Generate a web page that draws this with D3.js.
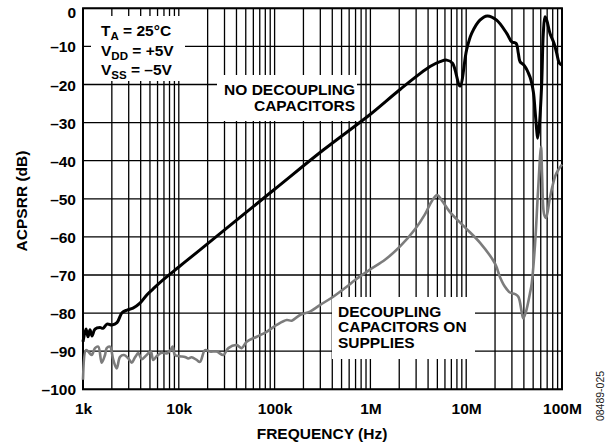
<!DOCTYPE html>
<html>
<head>
<meta charset="utf-8">
<script src="https://cdn.jsdelivr.net/npm/d3@7"></script>
<style>
  body { margin: 0; background: #fff; }
  text { font-family: Arial, "Liberation Sans", sans-serif; }
</style>
</head>
<body>
<script>
// tick values
const xTicks = [1e3, 1e4, 1e5, 1e6, 1e7, 1e8];
const xTickLabels = ["1k", "10k", "100k", "1M", "10M", "100M"];
const yTicks = [0, -10, -20, -30, -40, -50, -60, -70, -80, -90, -100];

// no decoupling capacitors (black)
const noDecHz = [1000, 1075, 1127, 1183, 1242, 1334, 1505, 1617, 1780, 2007, 2263, 2553, 2880, 3325, 3934,
  4654, 5373, 6839, 10000, 16650, 100000, 322000, 1000000, 2040000, 4190000, 5330000, 6260000, 7200000,
  8600000, 10100000, 11400000, 13900000, 16600000, 20800000, 26500000, 29900000, 33100000, 35000000,
  36500000, 40100000, 46300000, 50200000, 52300000, 54400000, 55700000, 57900000, 61400000, 63800000,
  66500000, 69200000, 75000000, 82500000, 88100000, 93800000, 100000000];
const noDecDb = [-87.5, -84.2, -86.2, -84.4, -86.0, -84.2, -83.8, -84.0, -82.9, -83.1, -82.5, -79.9, -79.2, -78.7, -77.4,
  -75.2, -73.7, -71.3, -67.9, -63.4, -47.5, -37.2, -27.8, -21.3, -15.3, -14.0, -13.6, -14.4,
  -20.4, -10.9, -6.6, -3.1, -2.0, -3.1, -6.6, -8.8, -9.2, -11.8,
  -14.0, -14.9, -18.0, -21.9, -26.7, -31.9, -34.1, -31.0, -19.7, -6.6,
  -2.2, -3.1, -6.6, -9.2, -11.8, -14.4, -14.9];

// decoupling capacitors on supplies (gray)
const decHz = [1000, 1075, 1136, 1232, 1334, 1444, 1567, 1697, 1768, 1912, 2071, 2249, 2434, 2678, 2973,
  3226, 3494, 3781, 4099, 4620, 5090, 5420, 5880, 6630, 7480, 8230, 8640, 9120, 10270, 11590, 12560,
  13610, 15360, 16650, 18770, 21170, 24860, 29170, 32900, 40200, 45300, 51100, 65000, 82600, 105000,
  134000, 151000, 184000, 234000, 297000, 409000, 565000, 692000, 1000000, 1420000, 2040000, 2920000,
  3720000, 4400000, 4960000, 5590000, 6770000, 9710000, 13900000, 20000000, 22500000, 25400000, 28600000,
  32300000, 35000000, 37900000, 39400000, 42100000, 46300000, 48300000, 52300000, 56200000, 60400000,
  62000000, 65000000, 68100000, 74500000, 79000000, 85000000, 91000000, 100000000];
const decDb = [-97.5, -89.7, -90.1, -91.0, -89.2, -88.8, -93.0, -91.0, -89.2, -88.8, -92.3, -94.5, -91.5, -91.0, -91.9,
  -93.0, -91.6, -90.5, -92.1, -91.0, -90.1, -92.3, -91.3, -90.4, -90.6, -89.7, -88.8, -91.0, -91.3, -91.5, -91.9,
  -91.6, -92.3, -92.8, -89.7, -90.1, -90.1, -91.0, -89.2, -88.4, -89.2, -87.5, -86.2, -84.9, -83.1,
  -81.8, -82.0, -80.5, -79.6, -77.9, -75.7, -73.1, -71.3, -68.5, -66.0, -62.5, -58.0,
  -54.0, -50.5, -49.0, -50.5, -53.5, -57.5, -61.5, -67.0, -70.5, -73.1, -74.6,
  -75.0, -75.7, -79.6, -81.4, -79.6, -74.8, -72.2, -62.0, -48.0, -36.3,
  -44.0, -54.0, -55.0, -50.0, -47.0, -44.0, -42.5, -41.0];

const W = 610, H = 448;
const plot = {left: 83, right: 562, top: 8.3, bottom: 389.3};
const fs = 15.5;

const svg = d3.select("body").append("svg")
    .attr("width", W)
    .attr("height", H);

const xScale = d3.scaleLog().domain([1e3, 1e8]).range([plot.left, plot.right]);
const yScale = d3.scaleLinear().domain([-100, 0]).range([plot.bottom, plot.top]);

// grid
const grid = svg.append("g").attr("stroke", "#000").attr("stroke-width", 1.3);
grid.selectAll("line.v")
    .data(xScale.ticks())
    .enter().append("line")
    .attr("x1", d => xScale(d)).attr("x2", d => xScale(d))
    .attr("y1", plot.top).attr("y2", plot.bottom);
grid.selectAll("line.h")
    .data(yTicks)
    .enter().append("line")
    .attr("x1", plot.left).attr("x2", plot.right)
    .attr("y1", d => yScale(d)).attr("y2", d => yScale(d));

// white boxes that hide the grid under the notes
const boxes = [[91, 16, 94, 65], [217, 75, 140, 46], [332, 297, 143, 62]];
svg.selectAll("rect.box")
    .data(boxes)
    .enter().append("rect")
    .attr("x", d => d[0]).attr("y", d => d[1])
    .attr("width", d => d[2]).attr("height", d => d[3])
    .attr("fill", "#fff");

// frame
svg.append("rect")
    .attr("x", plot.left).attr("y", plot.top)
    .attr("width", plot.right - plot.left).attr("height", plot.bottom - plot.top)
    .attr("fill", "none").attr("stroke", "#000").attr("stroke-width", 2);

const line = d3.line()
    .x(d => xScale(d[0]))
    .y(d => yScale(d[1]))
    .curve(d3.curveCatmullRom.alpha(0.5));

svg.append("path")
    .datum(decHz.map((f, i) => [f, decDb[i]]))
    .attr("d", line)
    .attr("fill", "none")
    .attr("stroke", "#7c7c7c")
    .attr("stroke-width", 2.6)
    .attr("stroke-linejoin", "round");

svg.append("path")
    .datum(noDecHz.map((f, i) => [f, noDecDb[i]]))
    .attr("d", line)
    .attr("fill", "none")
    .attr("stroke", "#000")
    .attr("stroke-width", 3)
    .attr("stroke-linejoin", "round");

// axes (labels only)
const yAxis = d3.axisLeft(yScale)
    .tickValues(yTicks)
    .tickSize(0)
    .tickPadding(0)
    .tickFormat(d => d < 0 ? "\u2013" + Math.abs(d) : d);
const yg = svg.append("g").attr("transform", "translate(76,0)").call(yAxis);

const xAxis = d3.axisBottom(xScale)
    .tickValues(xTicks)
    .tickSize(0)
    .tickPadding(0)
    .tickFormat((d, i) => xTickLabels[i]);
const xg = svg.append("g").attr("transform", "translate(0,402)").call(xAxis);

[yg, xg].forEach(g => {
  g.select(".domain").remove();
  g.selectAll("text")
      .attr("font-family", "Arial, 'Liberation Sans', sans-serif")
      .attr("font-size", fs)
      .attr("font-weight", "bold")
      .attr("fill", "#000");
});
yg.selectAll("text").attr("dy", d => d === 0 ? "0.62em" : "0.36em");
xg.selectAll("text").attr("dy", "0.76em");

// axis titles
svg.append("text")
    .attr("x", 322).attr("y", 439)
    .attr("text-anchor", "middle")
    .attr("font-size", fs).attr("font-weight", "bold")
    .text("FREQUENCY (Hz)");

svg.append("text")
    .attr("transform", "translate(26.5,201) rotate(-90)")
    .attr("text-anchor", "middle")
    .attr("font-size", fs).attr("font-weight", "bold")
    .text("ACPSRR (dB)");

svg.append("text")
    .attr("transform", "translate(604,396) rotate(-90)")
    .attr("text-anchor", "middle")
    .attr("font-size", 10.5)
    .attr("fill", "#222")
    .text("08489-025");

// conditions note
const cond = [["T", "A", " = 25°C", 36], ["V", "DD", " = +5V", 55.5], ["V", "SS", " = \u20135V", 75]];
cond.forEach(c => {
  const t = svg.append("text")
      .attr("x", 101).attr("y", c[3])
      .attr("font-size", fs).attr("font-weight", "bold");
  t.append("tspan").text(c[0]);
  t.append("tspan").attr("font-size", 11.5).attr("dy", 4).text(c[1]);
  t.append("tspan").attr("dy", -4).text(c[2]);
});

// curve notes
svg.selectAll("text.n1")
    .data(["NO DECOUPLING", "CAPACITORS"])
    .enter().append("text")
    .attr("x", 355).attr("y", (d, i) => 95 + i * 15.5)
    .attr("text-anchor", "end")
    .attr("font-size", fs).attr("font-weight", "bold")
    .text(d => d);

svg.selectAll("text.n2")
    .data(["DECOUPLING", "CAPACITORS ON", "SUPPLIES"])
    .enter().append("text")
    .attr("x", 338).attr("y", (d, i) => 316.7 + i * 15.7)
    .attr("font-size", fs).attr("font-weight", "bold")
    .text(d => d);
</script>
</body>
</html>
